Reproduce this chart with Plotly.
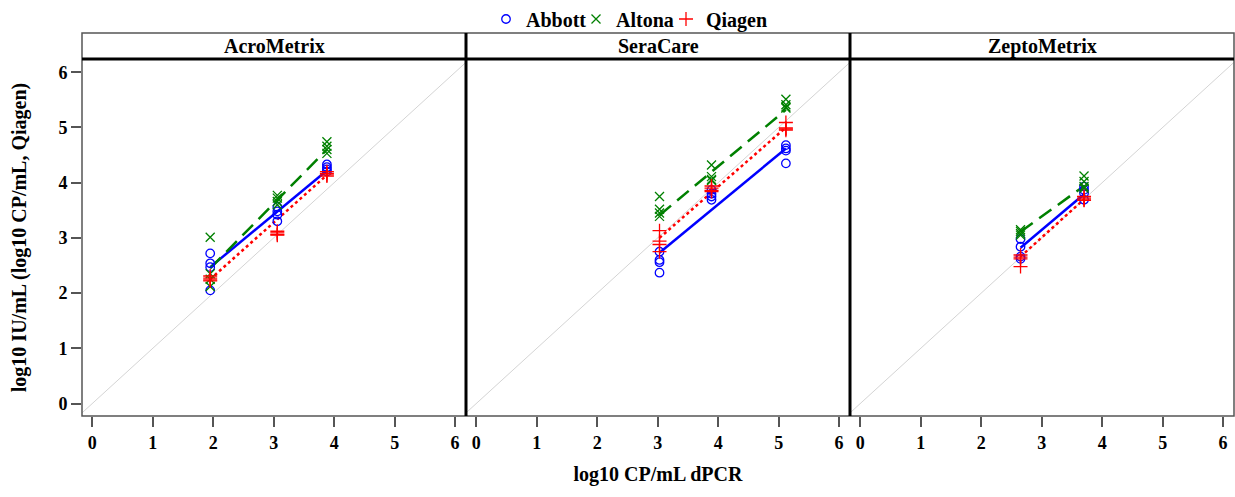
import plotly.graph_objects as go

# ---------------- data ----------------
panels = ["AcroMetrix", "SeraCare", "ZeptoMetrix"]
vendors = ["Abbott", "Altona", "Qiagen"]

# AcroMetrix
acro_x = [1.95, 3.06, 3.88]
acro_abbott = [[2.72, 2.54, 2.47, 2.05], [3.56, 3.48, 3.42, 3.30], [4.33, 4.28, 4.24, 4.20]]
acro_altona = [[3.01, 2.35, 2.25, 2.12], [3.77, 3.72, 3.66, 3.60], [4.74, 4.66, 4.60, 4.53]]
acro_qiagen = [[2.31, 2.27, 2.24, 2.22], [3.12, 3.09, 3.06, 3.05], [4.20, 4.17, 4.14, 4.12]]
acro_fit_abbott = [2.47, 4.22]
acro_fit_altona = [2.45, 4.60]
acro_fit_qiagen = [2.25, 4.14]

# SeraCare
sera_x = [3.03, 3.89, 5.12]
sera_abbott = [[2.75, 2.60, 2.56, 2.37], [3.87, 3.80, 3.75, 3.69], [4.68, 4.62, 4.58, 4.35]]
sera_altona = [[3.75, 3.52, 3.45, 3.39], [4.32, 4.11, 4.06, 4.04], [5.51, 5.41, 5.37, 5.35]]
sera_qiagen = [[3.13, 2.94, 2.88, 2.75], [3.94, 3.90, 3.86, 3.84], [5.09, 4.99, 4.97, 4.95]]
sera_fit_abbott = [2.73, 4.62]
sera_fit_altona = [3.41, 5.32]
sera_fit_qiagen = [3.00, 5.00]

# ZeptoMetrix
zepto_x = [2.65, 3.70]
zepto_abbott = [[2.98, 2.84, 2.66, 2.62], [3.93, 3.87, 3.81, 3.69]]
zepto_altona = [[3.15, 3.12, 3.08, 3.05], [4.12, 4.02, 3.93, 3.90]]
zepto_qiagen = [[2.69, 2.65, 2.62, 2.48], [3.75, 3.72, 3.69, 3.68]]
zepto_fit_abbott = [2.82, 3.79]
zepto_fit_altona = [3.11, 3.94]
zepto_fit_qiagen = [2.66, 3.70]

x_ticks = [0, 1, 2, 3, 4, 5, 6]
y_ticks = [0, 1, 2, 3, 4, 5, 6]

panel_x = [acro_x, sera_x, zepto_x]
panel_points = [
    [acro_abbott, acro_altona, acro_qiagen],
    [sera_abbott, sera_altona, sera_qiagen],
    [zepto_abbott, zepto_altona, zepto_qiagen],
]
panel_fits = [
    [acro_fit_abbott, acro_fit_altona, acro_fit_qiagen],
    [sera_fit_abbott, sera_fit_altona, sera_fit_qiagen],
    [zepto_fit_abbott, zepto_fit_altona, zepto_fit_qiagen],
]

# ---------------- styles ----------------
colors = {"Abbott": "#0000ff", "Altona": "#008000", "Qiagen": "#ff0000"}
symbols = {"Abbott": "circle-open", "Altona": "x-thin-open", "Qiagen": "cross-thin-open"}
msizes = {"Abbott": 8.5, "Altona": 9, "Qiagen": 10}
dashes = {"Abbott": "solid", "Altona": "15px,8px", "Qiagen": "dot"}
legend_ids = {"Abbott": "legend", "Altona": "legend2", "Qiagen": "legend3"}
legend_px = {"Abbott": 486, "Altona": 576, "Qiagen": 666}
FONT = "Liberation Serif"

W, H = 1235, 497
L, R, T, B = 82, 1, 33, 81
plot_w = W - L - R
plot_h = H - T - B
strip_h = 26
ydom_top = (plot_h - strip_h) / plot_h

fig = go.Figure()

xr = [-0.17, 6.18]
yr = [-0.226, 6.24]

for i, pname in enumerate(panels):
    xa = "x" if i == 0 else f"x{i+1}"
    ya = "y" if i == 0 else f"y{i+1}"
    # identity line
    fig.add_trace(go.Scatter(x=[-1, 7], y=[-1, 7], mode="lines",
                             line=dict(color="#d4d4d4", width=1),
                             xaxis=xa, yaxis=ya, showlegend=False, hoverinfo="skip"))
    xs = panel_x[i]
    for j, v in enumerate(vendors):
        fit = panel_fits[i][j]
        fig.add_trace(go.Scatter(x=[xs[0], xs[-1]], y=fit, mode="lines",
                                 line=dict(color=colors[v], width=2.5, dash=dashes[v]),
                                 xaxis=xa, yaxis=ya, showlegend=False, hoverinfo="skip"))
    for j, v in enumerate(vendors):
        px, py = [], []
        for k, xv in enumerate(xs):
            for yv in panel_points[i][j][k]:
                px.append(xv)
                py.append(yv)
        fig.add_trace(go.Scatter(x=px, y=py, mode="markers", name=v,
                                 marker=dict(symbol=symbols[v], size=msizes[v],
                                             color=colors[v],
                                             line=dict(color=colors[v], width=1.3)),
                                 legend=legend_ids[v],
                                 xaxis=xa, yaxis=ya, showlegend=(i == 0)))

tickfont = dict(family=FONT, size=18, color="black", weight="bold")
axis_common = dict(showgrid=False, zeroline=False, showline=False, automargin=False,
                   ticks="outside", ticklen=10, tickwidth=1.5, tickcolor="#555",
                   tickfont=tickfont)

layout = dict(
    width=W, height=H,
    margin=dict(l=L, r=R, t=T, b=B, autoexpand=False),
    plot_bgcolor="white", paper_bgcolor="white",
    font=dict(family=FONT, size=20, color="black"),
)
for v in vendors:
    layout[legend_ids[v]] = dict(
        orientation="h", x=(legend_px[v] - L) / plot_w, xanchor="left",
        y=1 + (T - 19) / plot_h, yanchor="middle",
        font=dict(family=FONT, size=20, color="black", weight="bold"),
        itemwidth=30, bgcolor="rgba(0,0,0,0)")

for i in range(3):
    xk = "xaxis" if i == 0 else f"xaxis{i+1}"
    yk = "yaxis" if i == 0 else f"yaxis{i+1}"
    layout[xk] = dict(axis_common, domain=[i / 3, (i + 1) / 3], range=xr,
                      tickvals=x_ticks, anchor="y" if i == 0 else f"y{i+1}")
    ydict = dict(axis_common, domain=[0, ydom_top], range=yr, tickvals=y_ticks,
                 anchor="x" if i == 0 else f"x{i+1}")
    if i > 0:
        ydict["showticklabels"] = False
        ydict["ticks"] = ""
    layout[yk] = ydict

layout["xaxis2"]["title"] = dict(text="log10 CP/mL dPCR", standoff=15,
                                 font=dict(family=FONT, size=20, weight="bold"))
layout["yaxis"]["title"] = dict(text="log10 IU/mL (log10 CP/mL, Qiagen)", standoff=26,
                                font=dict(family=FONT, size=20, weight="bold"))

fig.update_layout(**layout)

shapes = [
    dict(type="rect", xref="paper", yref="paper", x0=0, x1=1, y0=0, y1=1,
         line=dict(color="#555", width=1.5), fillcolor="rgba(0,0,0,0)"),
    dict(type="line", xref="paper", yref="paper", x0=0, x1=1, y0=ydom_top, y1=ydom_top,
         line=dict(color="black", width=3)),
    dict(type="line", xref="paper", yref="paper", x0=1 / 3, x1=1 / 3, y0=0, y1=1,
         line=dict(color="black", width=3)),
    dict(type="line", xref="paper", yref="paper", x0=2 / 3, x1=2 / 3, y0=0, y1=1,
         line=dict(color="black", width=3)),
]
annotations = []
for i, pname in enumerate(panels):
    annotations.append(dict(text=pname, xref="paper", yref="paper",
                            x=(i + 0.5) / 3, y=(ydom_top + 1) / 2,
                            xanchor="center", yanchor="middle", showarrow=False,
                            font=dict(family=FONT, size=20, color="black", weight="bold")))
fig.update_layout(shapes=shapes, annotations=annotations)

fig.write_html("out.html", config={"displayModeBar": False},
               post_script="document.body.style.margin='0';document.body.style.overflow='hidden';")
